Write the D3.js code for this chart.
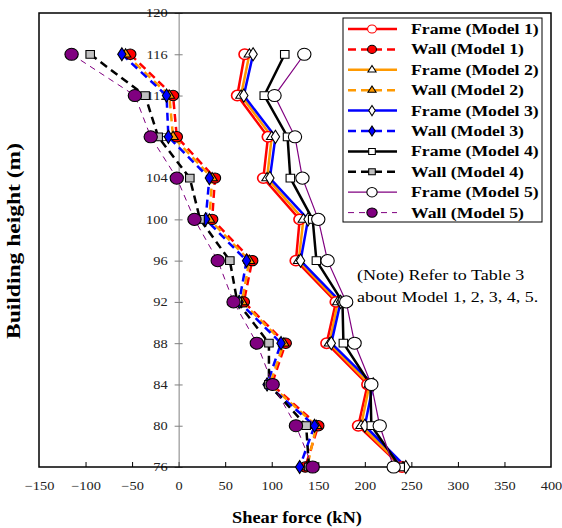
<!DOCTYPE html>
<html>
<head>
<meta charset="utf-8">
<script src="https://cdn.jsdelivr.net/npm/d3@7"></script>
<style>
  body { margin: 0; background: #fff; }
  svg { display: block; }
  text { font-family: "Liberation Serif", "Times New Roman", serif; }
</style>
</head>
<body>
<svg id="chart" width="562" height="528"></svg>
<script>
// building heights (m) at each storey point
const heights = [116, 112, 108, 104, 100, 96, 92, 88, 84, 80, 76];

// shear force (kN), one value per height
const frame1 = [71, 63, 96, 91, 130, 126, 169, 159, 203, 193, 240];
const wall1 = [-52, -6, -2, 39, 36, 79, 70, 115, 100, 150, 136];
const frame2 = [76, 67, 100, 95, 134, 129, 171, 162, 205, 196, 241];
const wall2 = [-57, -10, -6, 36, 33, 76, 68, 113, 98, 148, 138];
const frame3 = [80, 70, 104, 98, 139, 131, 174, 164, 209, 200, 244];
const wall3 = [-61, -13, -11, 33, 29, 73, 65, 110, 95, 146, 130];
const frame4 = [114, 92, 117, 120, 144, 148, 176, 177, 206, 207, 238];
const wall4 = [-95, -36, -22, 12, 23, 55, 63, 97, 97, 137, 140];
const frame5 = [135, 103, 125, 133, 150, 160, 180, 189, 207, 216, 231];
const wall5 = [-115, -47, -30, -2, 17, 42, 59, 84, 101, 126, 144];

const seriesNames = ["Frame (Model 1)", "Wall (Model 1)", "Frame (Model 2)", "Wall (Model 2)",
  "Frame (Model 3)", "Wall (Model 3)", "Frame (Model 4)", "Wall (Model 4)",
  "Frame (Model 5)", "Wall (Model 5)"];
const seriesValues = [frame1, wall1, frame2, wall2, frame3, wall3, frame4, wall4, frame5, wall5];

const xTicks = [-150, -100, -50, 0, 50, 100, 150, 200, 250, 300, 350, 400];
const yTicks = [76, 80, 84, 88, 92, 96, 100, 104, 108, 112, 116, 120];

// styling per series
const styles = [
  { color: "#ff0000", width: 2.5, dash: null, symbol: d3.symbolCircle, size: 85, fill: "#fff", stroke: "#ff0000" },
  { color: "#ff0000", width: 2.5, dash: "8,5", symbol: d3.symbolCircle, size: 85, fill: "#ff0000", stroke: "#000" },
  { color: "#ff9900", width: 2.5, dash: null, symbol: d3.symbolTriangle, size: 40, fill: "#fff", stroke: "#000" },
  { color: "#ff9900", width: 2.5, dash: "8,5", symbol: d3.symbolTriangle, size: 40, fill: "#ff9900", stroke: "#000" },
  { color: "#0000ff", width: 2.5, dash: null, symbol: d3.symbolDiamond, size: 50, fill: "#fff", stroke: "#000" },
  { color: "#0000ff", width: 2.5, dash: "8,5", symbol: d3.symbolDiamond, size: 50, fill: "#0000ff", stroke: "#000" },
  { color: "#000000", width: 2.5, dash: null, symbol: d3.symbolSquare, size: 60, fill: "#fff", stroke: "#000" },
  { color: "#000000", width: 2.5, dash: "8,5", symbol: d3.symbolSquare, size: 60, fill: "#c0c0c0", stroke: "#000" },
  { color: "#800080", width: 1.2, dash: null, symbol: d3.symbolCircle, size: 115, fill: "#fff", stroke: "#000" },
  { color: "#800080", width: 1, dash: "6,5", symbol: d3.symbolCircle, size: 115, fill: "#800080", stroke: "#000" }
];

// the original picture is a little wider than tall, so text is stretched sideways
const stretch = 1.2;

const svg = d3.select("#chart");
const plotLeft = 39, plotRight = 551, plotTop = 13, plotBottom = 467;

const x = d3.scaleLinear().domain([-150, 400]).range([plotLeft, plotRight]);
const y = d3.scaleLinear().domain([76, 120]).range([plotBottom, plotTop]);

// x axis at the bottom, ticks pointing inward
const xAxis = svg.append("g")
  .attr("transform", `translate(0,${plotBottom})`)
  .call(d3.axisBottom(x).tickValues(xTicks).tickSize(-5).tickPadding(14).tickSizeOuter(0));
xAxis.attr("font-family", null).attr("font-size", 12);
xAxis.select(".domain").remove();
xAxis.selectAll(".tick line").attr("stroke", "#000");
xAxis.selectAll(".tick text").attr("fill", "#222").attr("transform", `scale(${stretch},1)`);
xAxis.selectAll(".tick").filter(d => d === -150 || d === 400).select("line").remove();

// y axis along x = 0
const yAxis = svg.append("g")
  .attr("transform", `translate(${x(0)},0)`)
  .call(d3.axisLeft(y).tickValues(yTicks).tickSize(4).tickPadding(7).tickSizeOuter(0));
yAxis.attr("font-family", null).attr("font-size", 12);
yAxis.select(".domain").attr("stroke", "#808080");
yAxis.selectAll(".tick line").attr("x1", 4).attr("x2", -4).attr("stroke", "#808080");
yAxis.selectAll(".tick text").attr("fill", "#222")
  .attr("x", -11 / stretch).attr("transform", `scale(${stretch},1)`);

// plot frame
svg.append("rect")
  .attr("x", plotLeft).attr("y", plotTop)
  .attr("width", plotRight - plotLeft).attr("height", plotBottom - plotTop)
  .attr("fill", "none").attr("stroke", "#000").attr("stroke-width", 1.5);

const line = d3.line().x(d => x(d[0])).y(d => y(d[1]));

seriesValues.forEach((vals, i) => {
  const st = styles[i];
  const pts = vals.map((v, j) => [v, heights[j]]);
  svg.append("path")
    .datum(pts)
    .attr("d", line)
    .attr("fill", "none")
    .attr("stroke", st.color)
    .attr("stroke-width", st.width)
    .attr("stroke-dasharray", st.dash);
});

seriesValues.forEach((vals, i) => {
  const st = styles[i];
  svg.append("g").selectAll("path")
    .data(vals.map((v, j) => [v, heights[j]]))
    .enter()
    .append("path")
    .attr("transform", d => `translate(${x(d[0])},${y(d[1])}) scale(1.1,1)`)
    .attr("d", d3.symbol().type(st.symbol).size(st.size))
    .attr("fill", st.fill)
    .attr("stroke", st.stroke)
    .attr("stroke-width", i === 0 ? 1.5 : 1);
});

// helper for the sideways stretched labels
function label(px, py, txt, size, bold, sx) {
  return svg.append("text")
    .attr("transform", `translate(${px},${py}) scale(${sx || stretch},1)`)
    .style("font-size", size + "px")
    .style("font-weight", bold ? "bold" : "normal")
    .text(txt);
}

// legend
const legend = svg.append("g");
legend.append("rect")
  .attr("x", 343).attr("y", 18).attr("width", 199).attr("height", 204)
  .attr("fill", "#fff").attr("stroke", "#000").attr("stroke-width", 1);

seriesNames.forEach((name, i) => {
  const st = styles[i];
  const ly = 29 + i * 20.4;
  legend.append("line")
    .attr("x1", 348).attr("x2", 397).attr("y1", ly).attr("y2", ly)
    .attr("stroke", st.color).attr("stroke-width", st.width)
    .attr("stroke-dasharray", st.dash);
  legend.append("path")
    .attr("transform", `translate(372,${ly}) scale(1.1,1)`)
    .attr("d", d3.symbol().type(st.symbol).size(st.size * 0.6))
    .attr("fill", st.fill).attr("stroke", st.stroke)
    .attr("stroke-width", 1);
  label(411, ly + 5, name, 15, true, 1.18);
});

// note
label(357, 280, "(Note) Refer to Table 3", 15, false);
label(357, 302, "about Model 1, 2, 3, 4, 5.", 15, false);

// axis titles
svg.append("text")
  .attr("x", 297).attr("y", 523)
  .attr("text-anchor", "middle")
  .attr("textLength", 130).attr("lengthAdjust", "spacingAndGlyphs")
  .style("font-size", "17px").style("font-weight", "bold")
  .text("Shear force (kN)");

svg.append("text")
  .attr("transform", "translate(20,241) rotate(-90)")
  .attr("text-anchor", "middle")
  .attr("textLength", 196).attr("lengthAdjust", "spacingAndGlyphs")
  .style("font-size", "18px").style("font-weight", "bold")
  .text("Building height (m)");
</script>
</body>
</html>
